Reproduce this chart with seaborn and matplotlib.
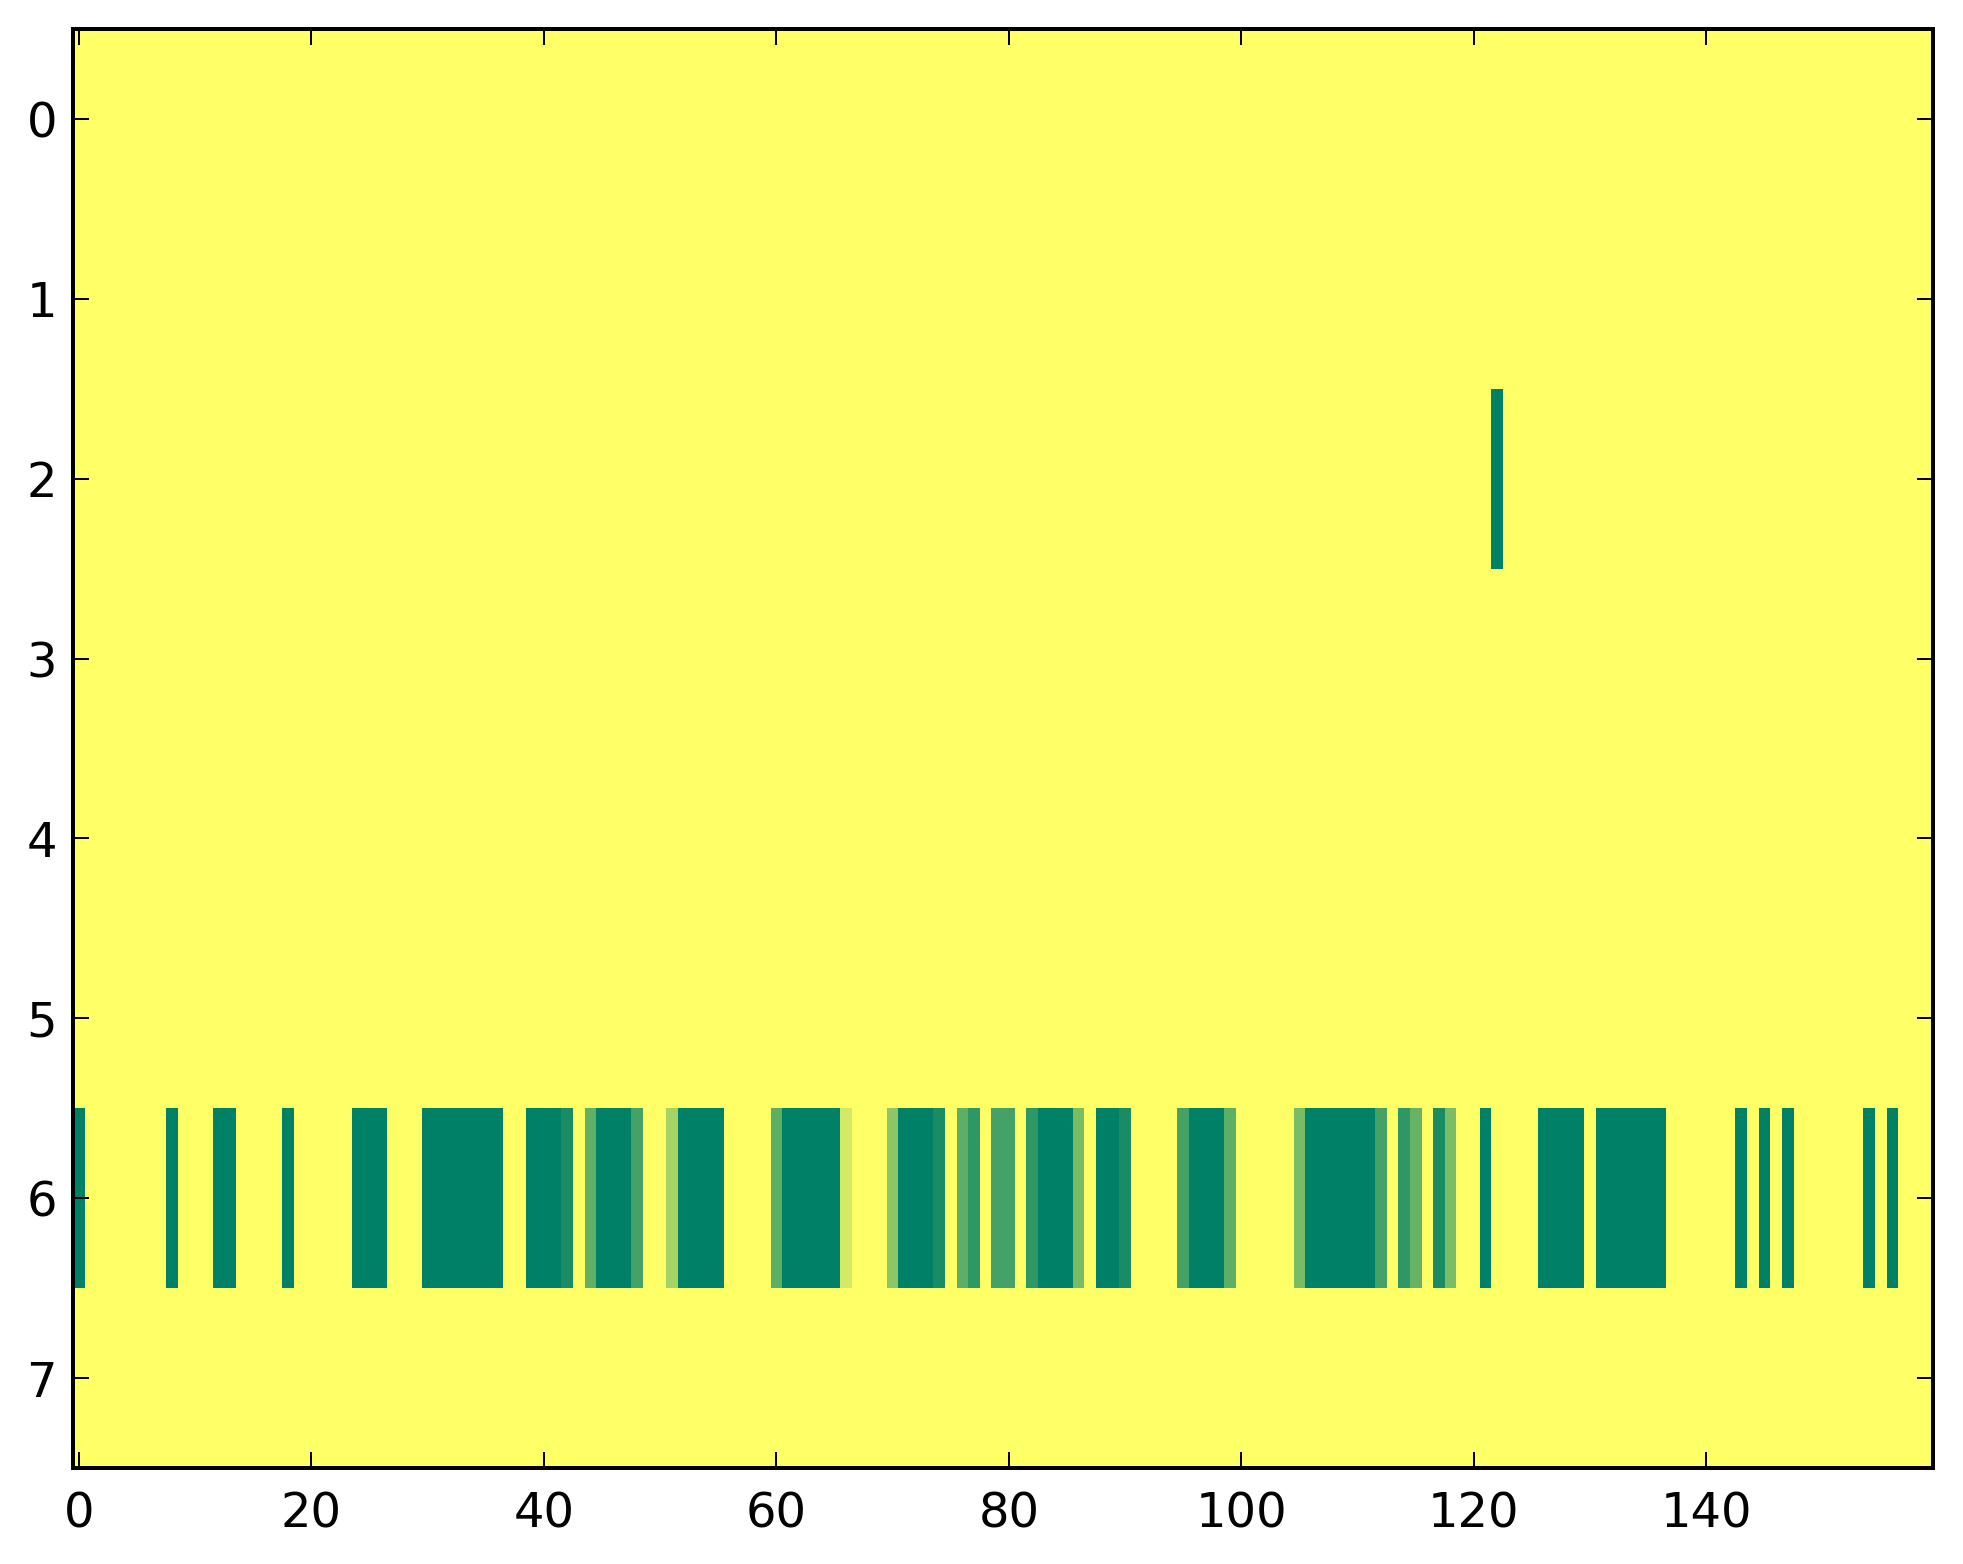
import numpy as np
import pandas as pd
import matplotlib
matplotlib.use("Agg")
import matplotlib.pyplot as plt
import seaborn as sns

# grid size
n_rows = 8
n_cols = 160

# row 6 values, read column by column (0 = yellow, 1 = dark green)
row6 = [
    1, 0, 0, 0, 0, 0, 0, 0, 1, 0, 0, 0, 1, 1, 0, 0, 0, 0, 1, 0,
    0, 0, 0, 0, 1, 1, 1, 0, 0, 0, 1, 1, 1, 1, 1, 1, 1, 0, 0, 1,
    1, 1, .9, 0, .62, 1, 1, 1, .73, 0, 0, .35, 1, 1, 1, 1, 0, 0, 0, 0,
    .63, 1, 1, 1, 1, 1, .17, 0, 0, 0, .45, 1, 1, 1, .9, 0, .63, .82, 0, .73,
    .73, 0, .82, 1, 1, 1, .53, 0, 1, 1, .9, 0, 0, 0, 0, .73, 1, 1, 1, .63,
    0, 0, 0, 0, 0, .53, 1, 1, 1, 1, 1, 1, .73, 0, .82, .6, 0, .9, .52, 0,
    0, 1, 0, 0, 0, 0, 1, 1, 1, 1, 0, 1, 1, 1, 1, 1, 1, 0, 0, 0,
    0, 0, 0, 1, 0, 1, 0, 1, 0, 0, 0, 0, 0, 0, 1, 0, 1, 0, 0, 0,
]
# single cell in row 2
row2_col = 122
row2_val = 1

xtick_vals = [0, 20, 40, 60, 80, 100, 120, 140]
ytick_vals = [0, 1, 2, 3, 4, 5, 6, 7]

# build the matrix
grid = np.zeros((n_rows, n_cols))
grid[6, :] = row6
grid[2, row2_col] = row2_val
df = pd.DataFrame(grid)

fig = plt.figure(figsize=(1963 / 288, 1564 / 288), dpi=288)
ax = fig.add_axes([73 / 1963, 1 - 1468 / 1564, (1933 - 73) / 1963, (1468 - 29) / 1564])

sns.heatmap(df, cmap="summer_r", vmin=0, vmax=1, cbar=False, ax=ax,
            xticklabels=False, yticklabels=False)

# classic-looking axes: all spines, ticks inside on every side
for s in ax.spines.values():
    s.set_visible(True)
    s.set_linewidth(1.0)
    s.set_color("black")

ax.set_xticks(np.array(xtick_vals) + 0.5)
ax.set_xticklabels([str(v) for v in xtick_vals])
ax.set_yticks(np.array(ytick_vals) + 0.5)
ax.set_yticklabels([str(v) for v in ytick_vals], rotation=0)
ax.tick_params(direction="in", top=True, right=True, length=4, width=0.5,
               labelsize=12, colors="black")
ax.tick_params(axis="x", pad=5.5)
ax.tick_params(axis="y", pad=4)
ax.set_xlabel("")
ax.set_ylabel("")

fig.savefig("out.png", dpi=288, facecolor="white")
